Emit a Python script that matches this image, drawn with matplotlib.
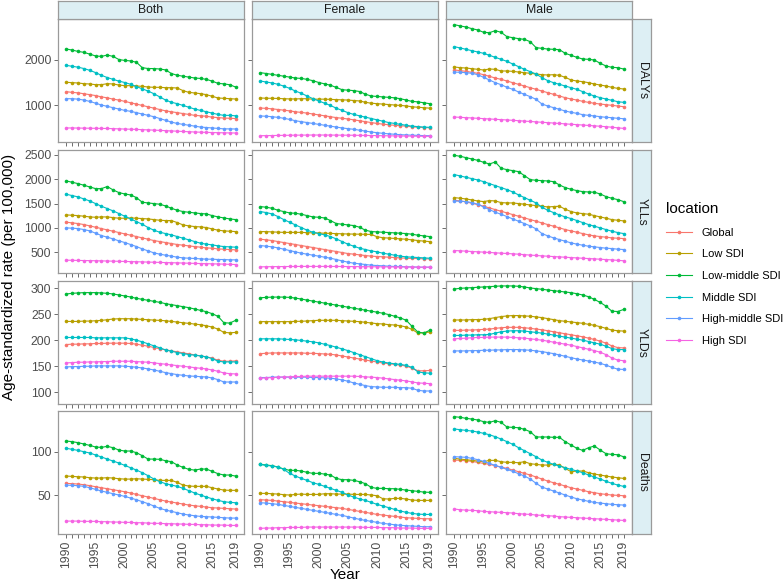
import matplotlib
matplotlib.use('Agg')
import matplotlib.pyplot as plt
from matplotlib.lines import Line2D

plt.rcParams['font.family'] = ['Liberation Sans', 'DejaVu Sans']

years = list(range(1990, 2020))
locations = ['Global', 'Low SDI', 'Low-middle SDI', 'Middle SDI', 'High-middle SDI', 'High SDI']
colors = ['#F8766D', '#B79F00', '#00BA38', '#00BFC4', '#619CFF', '#F564E3']
sexes = ['Both', 'Female', 'Male']
measures = ['DALYs', 'YLLs', 'YLDs', 'Deaths']
year_labels = {1990: '1990', 1995: '1995', 2000: '2000', 2005: '2005',
               2010: '2010', 2015: '2015', 2019: '2019'}

# ---- DALYs ----
dalys_both = {
    'Global': [1296, 1280, 1270, 1250, 1230, 1210, 1180, 1160, 1130, 1110, 1080, 1050, 1020, 990, 960,
               930, 900, 870, 850, 830, 810, 790, 770, 760, 750, 730, 720, 710, 705, 700],
    'Low SDI': [1504, 1497, 1489, 1474, 1467, 1452, 1452, 1474, 1467, 1444, 1430, 1430, 1422, 1415, 1400,
                1393, 1393, 1385, 1385, 1378, 1319, 1281, 1267, 1252, 1230, 1193, 1156, 1148, 1141, 1133],
    'Low-middle SDI': [2244, 2220, 2190, 2170, 2130, 2090, 2080, 2110, 2080, 2010, 1990, 1980, 1950, 1830, 1810,
                       1810, 1800, 1780, 1700, 1660, 1640, 1620, 1600, 1590, 1570, 1530, 1480, 1470, 1450, 1400],
    'Middle SDI': [1880, 1860, 1840, 1810, 1770, 1720, 1660, 1610, 1570, 1530, 1500, 1460, 1410, 1360, 1310,
                   1250, 1180, 1110, 1060, 1030, 990, 950, 910, 880, 850, 820, 790, 770, 770, 760],
    'High-middle SDI': [1140, 1140, 1130, 1110, 1080, 1040, 1000, 970, 940, 910, 880, 860, 830, 800, 770,
                        740, 700, 660, 620, 590, 570, 550, 530, 510, 500, 490, 480, 470, 470, 467],
    'High SDI': [490, 490, 488, 486, 484, 482, 480, 478, 475, 470, 466, 462, 458, 452, 447,
                 442, 436, 430, 424, 418, 412, 406, 400, 396, 392, 388, 385, 382, 380, 378],
}
dalys_female = {
    'Global': [933, 925, 915, 900, 885, 870, 850, 835, 820, 800, 780, 760, 740, 720, 705,
               690, 670, 650, 630, 610, 590, 575, 560, 550, 540, 530, 515, 505, 500, 496],
    'Low SDI': [1156, 1150, 1150, 1145, 1140, 1135, 1135, 1140, 1140, 1130, 1130, 1130, 1125, 1120, 1115,
                1110, 1100, 1090, 1060, 1040, 1030, 1020, 1010, 1000, 990, 980, 960, 950, 940, 930],
    'Low-middle SDI': [1718, 1700, 1680, 1660, 1640, 1620, 1600, 1590, 1570, 1540, 1500, 1470, 1440, 1390, 1340,
                       1330, 1320, 1300, 1240, 1200, 1190, 1180, 1170, 1160, 1140, 1110, 1080, 1070, 1050, 1030],
    'Middle SDI': [1533, 1510, 1490, 1460, 1420, 1370, 1310, 1260, 1200, 1140, 1090, 1040, 990, 930, 880,
                   830, 790, 760, 730, 700, 670, 640, 610, 590, 570, 550, 530, 520, 510, 504],
    'High-middle SDI': [756, 750, 740, 725, 705, 680, 650, 630, 610, 590, 570, 550, 530, 510, 490,
                        475, 460, 440, 420, 400, 385, 370, 360, 350, 340, 335, 330, 325, 320, 318],
    'High SDI': [318, 320, 322, 324, 326, 328, 330, 331, 332, 333, 333, 333, 332, 331, 330,
                 329, 328, 326, 324, 322, 320, 318, 316, 314, 312, 310, 308, 306, 305, 304],
}
dalys_male = {
    'Global': [1778, 1763, 1748, 1726, 1704, 1674, 1637, 1600, 1570, 1533, 1496, 1459, 1422, 1385, 1348,
               1311, 1274, 1237, 1200, 1163, 1133, 1111, 1081, 1059, 1037, 1022, 1007, 993, 978, 963],
    'Low SDI': [1844, 1830, 1822, 1807, 1793, 1778, 1800, 1793, 1756, 1756, 1748, 1733, 1719, 1704, 1689,
                1674, 1667, 1674, 1659, 1615, 1556, 1533, 1519, 1496, 1467, 1444, 1422, 1393, 1370, 1356],
    'Low-middle SDI': [2785, 2756, 2733, 2696, 2667, 2615, 2607, 2652, 2615, 2519, 2496, 2474, 2459, 2407, 2274,
                       2259, 2244, 2237, 2230, 2148, 2104, 2059, 2022, 2015, 2000, 1926, 1867, 1837, 1830, 1800],
    'Middle SDI': [2296, 2267, 2237, 2207, 2178, 2148, 2104, 2059, 2015, 1970, 1911, 1852, 1793, 1741, 1689,
                   1607, 1541, 1496, 1459, 1422, 1385, 1348, 1296, 1244, 1200, 1163, 1133, 1104, 1074, 1059],
    'High-middle SDI': [1733, 1726, 1719, 1704, 1674, 1615, 1556, 1496, 1452, 1393, 1348, 1289, 1237, 1185, 1126,
                        1022, 978, 941, 904, 867, 837, 815, 785, 770, 756, 741, 726, 719, 704, 696],
    'High SDI': [733, 726, 719, 712, 705, 697, 690, 682, 675, 668, 660, 651, 642, 634, 625,
                 616, 608, 599, 590, 581, 572, 564, 555, 546, 537, 528, 518, 506, 493, 481],
}

# ---- YLLs ----
ylls_both = {
    'Global': [1114, 1101, 1087, 1066, 1039, 1011, 984, 956, 929, 902, 874, 847, 819, 792, 764,
               737, 716, 696, 675, 655, 641, 627, 613, 600, 586, 579, 565, 559, 552, 545],
    'Low SDI': [1265, 1258, 1251, 1238, 1224, 1217, 1224, 1224, 1210, 1197, 1197, 1203, 1197, 1190, 1183,
                1169, 1155, 1149, 1149, 1107, 1059, 1039, 1025, 1018, 1005, 977, 950, 936, 929, 922],
    'Low-middle SDI': [1965, 1937, 1910, 1876, 1841, 1807, 1807, 1850, 1780, 1725, 1697, 1677, 1622, 1526, 1512,
                       1499, 1485, 1450, 1402, 1361, 1334, 1320, 1306, 1293, 1286, 1251, 1224, 1203, 1183, 1169],
    'Middle SDI': [1690, 1663, 1636, 1594, 1553, 1498, 1444, 1396, 1348, 1293, 1238, 1183, 1128, 1073, 1005,
                   950, 908, 881, 854, 819, 785, 751, 716, 682, 662, 648, 627, 613, 607, 600],
    'High-middle SDI': [998, 991, 984, 963, 936, 888, 840, 806, 771, 730, 696, 655, 613, 565, 524,
                        483, 456, 435, 415, 394, 380, 373, 367, 360, 353, 353, 346, 346, 339, 339],
    'High SDI': [332, 330, 327, 325, 323, 320, 318, 315, 312, 309, 306, 303, 300, 297, 293,
                 290, 286, 283, 280, 277, 273, 270, 266, 263, 260, 257, 254, 251, 247, 243],
}
ylls_female = {
    'Global': [764, 751, 737, 716, 696, 675, 655, 634, 613, 593, 572, 552, 531, 511, 490,
               469, 456, 442, 428, 415, 408, 401, 394, 387, 380, 373, 367, 367, 360, 360],
    'Low SDI': [922, 920, 915, 910, 905, 905, 905, 905, 900, 895, 892, 888, 884, 880, 876,
                872, 870, 868, 866, 862, 815, 795, 788, 780, 772, 764, 751, 737, 725, 716],
    'Low-middle SDI': [1437, 1423, 1402, 1361, 1334, 1306, 1299, 1279, 1251, 1224, 1217, 1203, 1149, 1087, 1073,
                       1059, 1046, 1011, 950, 922, 915, 908, 902, 895, 888, 881, 867, 847, 833, 819],
    'Middle SDI': [1334, 1313, 1286, 1231, 1169, 1114, 1059, 1005, 950, 908, 881, 854, 819, 771, 716,
                   662, 620, 579, 552, 524, 504, 476, 456, 435, 415, 401, 394, 387, 380, 373],
    'High-middle SDI': [634, 620, 607, 586, 559, 531, 504, 476, 456, 435, 415, 394, 373, 346, 318,
                        291, 270, 257, 243, 229, 222, 216, 209, 202, 202, 195, 195, 188, 188, 188],
    'High SDI': [195, 197, 199, 200, 201, 202, 203, 204, 204, 204, 204, 204, 203, 203, 202,
                 201, 200, 199, 198, 197, 196, 195, 194, 193, 192, 191, 190, 189, 188, 187],
}
ylls_male = {
    'Global': [1567, 1553, 1533, 1505, 1478, 1444, 1409, 1375, 1341, 1306, 1272, 1238, 1203, 1169, 1135,
               1101, 1066, 1032, 998, 963, 936, 908, 881, 854, 833, 819, 806, 792, 785, 778],
    'Low SDI': [1622, 1608, 1594, 1574, 1553, 1540, 1560, 1553, 1519, 1512, 1512, 1499, 1485, 1471, 1457,
                1444, 1430, 1437, 1444, 1382, 1334, 1306, 1293, 1279, 1251, 1224, 1197, 1169, 1155, 1142],
    'Low-middle SDI': [2493, 2473, 2445, 2418, 2390, 2349, 2315, 2356, 2226, 2198, 2178, 2157, 2075, 1992, 1979,
                       1972, 1965, 1951, 1883, 1828, 1793, 1766, 1745, 1738, 1732, 1697, 1642, 1608, 1581, 1540],
    'Middle SDI': [2095, 2068, 2040, 2013, 1985, 1951, 1910, 1869, 1828, 1787, 1738, 1677, 1622, 1567, 1512,
                   1423, 1361, 1313, 1265, 1224, 1190, 1149, 1107, 1066, 1032, 998, 963, 929, 902, 881],
    'High-middle SDI': [1553, 1546, 1540, 1519, 1485, 1430, 1375, 1320, 1279, 1231, 1183, 1135, 1087, 1039, 977,
                        881, 833, 792, 757, 723, 689, 662, 641, 620, 607, 593, 579, 572, 559, 552],
    'High SDI': [531, 525, 518, 511, 505, 498, 491, 484, 477, 470, 463, 456, 446, 437, 429,
                 421, 414, 407, 400, 393, 386, 379, 372, 366, 359, 352, 345, 338, 328, 320],
}

# ---- YLDs ----
ylds_both = {
    'Global': [191.6, 192.3, 192.3, 192.9, 192.9, 193.6, 193.6, 194.2, 194.2, 194.2, 194.2, 193.6, 192.3, 190.3, 188.4,
               185.8, 183.3, 181.3, 179.4, 177.5, 175.5, 173.6, 171.6, 169.7, 167.8, 165.2, 161.3, 159.4, 159.4, 160.0],
    'Low SDI': [236.1, 236.1, 236.1, 236.8, 236.8, 237.4, 238.1, 239.4, 240.7, 241.3, 241.3, 241.3, 240.7, 240.0, 239.4,
                238.7, 238.1, 237.4, 236.1, 234.9, 233.6, 232.3, 231.0, 229.7, 227.8, 225.2, 221.3, 214.9, 214.2, 214.9],
    'Low-middle SDI': [289.0, 290.3, 291.0, 291.6, 291.6, 291.6, 291.0, 290.3, 289.0, 287.1, 285.2, 283.2, 280.6, 278.7, 276.8,
                       274.8, 272.9, 270.3, 268.4, 266.5, 264.5, 262.6, 260.0, 257.4, 254.8, 251.0, 245.8, 233.6, 232.9, 238.1],
    'Middle SDI': [205.2, 205.2, 205.2, 205.2, 205.2, 204.5, 204.5, 204.5, 204.5, 204.5, 204.5, 202.6, 200.0, 196.8, 192.9,
                   189.1, 185.2, 181.3, 178.7, 176.2, 174.2, 172.3, 171.0, 169.7, 167.8, 164.6, 159.4, 158.1, 158.1, 158.1],
    'High-middle SDI': [148.4, 149.1, 149.1, 149.7, 149.7, 150.4, 150.4, 150.4, 150.4, 150.4, 149.7, 149.1, 147.8, 146.5, 144.6,
                        142.6, 140.0, 137.5, 135.5, 133.6, 132.3, 131.0, 130.4, 129.7, 129.1, 127.1, 123.9, 119.4, 119.4, 119.4],
    'High SDI': [156.2, 156.8, 157.5, 157.5, 158.1, 158.1, 158.7, 158.7, 159.4, 159.4, 159.4, 159.4, 158.7, 158.1, 157.5,
                 156.2, 154.9, 153.6, 152.3, 151.0, 149.7, 148.4, 147.1, 145.8, 144.6, 142.6, 140.0, 136.8, 135.5, 134.9],
}
ylds_female = {
    'Global': [174.1, 174.7, 175.4, 175.4, 175.4, 175.4, 175.4, 175.4, 174.7, 174.7, 174.1, 173.4, 172.8, 171.5, 169.5,
               167.6, 165.6, 163.7, 161.7, 159.8, 157.9, 155.9, 154.6, 153.3, 152.0, 150.1, 146.2, 141.0, 141.0, 141.6],
    'Low SDI': [235.7, 235.7, 235.7, 235.7, 235.7, 235.7, 236.3, 236.3, 237.0, 237.6, 238.3, 238.3, 238.3, 238.3, 237.6,
                237.0, 236.3, 235.7, 234.4, 233.1, 231.8, 231.2, 229.9, 229.2, 227.9, 225.3, 220.8, 213.6, 214.3, 215.6],
    'Low-middle SDI': [281.8, 282.4, 283.0, 283.0, 283.0, 282.4, 281.1, 279.2, 277.2, 275.3, 273.3, 271.4, 269.4, 267.5, 265.5,
                       263.6, 261.6, 259.7, 257.8, 255.8, 253.9, 251.9, 249.3, 246.1, 242.8, 238.3, 226.6, 215.6, 213.6, 218.8],
    'Middle SDI': [202.6, 202.6, 202.6, 202.6, 202.0, 201.3, 200.7, 199.4, 198.1, 196.8, 194.8, 192.2, 189.6, 186.4, 183.2,
                   179.9, 176.0, 172.1, 168.2, 164.3, 160.5, 157.9, 155.9, 154.6, 153.3, 151.4, 147.5, 139.0, 137.1, 136.4],
    'High-middle SDI': [128.0, 128.0, 128.7, 128.7, 128.7, 128.7, 128.7, 128.7, 128.7, 128.0, 128.0, 127.4, 126.7, 125.4, 123.5,
                        120.9, 117.6, 115.0, 112.4, 110.5, 109.9, 109.2, 109.2, 109.2, 108.5, 108.5, 107.3, 103.4, 102.1, 102.1],
    'High SDI': [126.7, 127.4, 128.0, 128.7, 129.3, 129.3, 130.0, 130.0, 130.6, 130.6, 130.6, 130.6, 130.6, 130.6, 130.6,
                 130.6, 130.6, 130.0, 129.3, 128.7, 128.0, 126.7, 125.4, 124.1, 122.8, 121.5, 119.6, 117.6, 117.0, 116.3],
}
ylds_male = {
    'Global': [218.8, 218.8, 219.5, 219.5, 220.1, 220.8, 221.4, 222.7, 224.0, 224.7, 224.7, 224.7, 224.0, 222.7, 221.4,
               220.1, 218.2, 216.2, 214.3, 212.3, 210.4, 208.5, 206.5, 203.9, 201.3, 198.1, 194.2, 189.0, 185.7, 185.1],
    'Low SDI': [238.9, 238.9, 238.9, 239.6, 239.6, 240.2, 241.5, 243.5, 245.4, 246.7, 247.4, 247.4, 246.7, 246.1, 244.8,
                243.5, 241.5, 239.6, 237.6, 236.3, 235.1, 233.8, 232.5, 230.5, 228.6, 226.0, 222.7, 219.5, 218.2, 217.5],
    'Low-middle SDI': [298.6, 299.9, 300.6, 301.2, 301.9, 302.5, 303.2, 303.8, 304.5, 304.5, 304.5, 303.8, 302.5, 300.6, 299.3,
                       298.0, 296.7, 295.4, 294.1, 292.8, 291.5, 289.5, 287.0, 283.7, 278.5, 272.7, 265.5, 255.8, 255.2, 259.1],
    'Middle SDI': [209.1, 209.1, 209.8, 209.8, 210.4, 210.4, 211.0, 213.6, 216.2, 217.5, 218.2, 218.2, 217.5, 216.2, 214.9,
                   213.6, 211.7, 209.8, 207.8, 205.9, 203.9, 202.0, 200.0, 197.4, 194.8, 192.2, 188.3, 183.8, 181.9, 181.9],
    'High-middle SDI': [179.3, 179.3, 179.3, 179.9, 179.9, 180.6, 180.6, 181.2, 181.2, 181.9, 181.9, 181.9, 181.2, 180.6, 179.3,
                        178.0, 176.0, 174.1, 171.5, 168.9, 166.3, 163.7, 161.8, 159.8, 157.9, 155.3, 152.0, 147.5, 144.2, 143.6],
    'High SDI': [202.6, 203.3, 203.9, 204.6, 205.2, 205.2, 205.9, 205.9, 205.9, 205.9, 205.2, 204.6, 203.9, 202.6, 201.3,
                 200.0, 198.1, 196.1, 194.2, 192.2, 190.3, 187.7, 185.1, 182.5, 179.9, 176.7, 172.1, 165.6, 161.7, 160.4],
}

# ---- Deaths ----
deaths_both = {
    'Global': [63.4, 63.1, 62.7, 61.9, 60.8, 59.6, 58.4, 57.3, 56.1, 55.0, 53.8, 52.3, 50.7, 49.2, 47.7,
               46.1, 44.6, 43.0, 41.9, 40.7, 39.6, 38.4, 37.6, 36.9, 36.1, 35.3, 35.0, 34.6, 34.2, 33.8],
    'Low SDI': [71.9, 71.5, 71.1, 70.8, 70.0, 69.6, 69.6, 70.0, 69.6, 68.8, 68.4, 68.4, 68.8, 68.4, 68.1,
                67.7, 66.9, 66.9, 66.9, 64.6, 61.5, 60.4, 60.0, 60.0, 60.0, 58.4, 56.9, 55.7, 55.4, 55.4],
    'Low-middle SDI': [112.3, 111.6, 110.4, 108.9, 107.3, 105.4, 105.0, 106.2, 104.6, 101.9, 100.8, 100.8, 98.9, 95.4, 91.5,
                       91.5, 91.2, 89.6, 88.5, 84.6, 81.9, 79.6, 78.8, 80.0, 80.0, 77.3, 74.6, 73.1, 73.1, 71.9],
    'Middle SDI': [103.9, 102.7, 101.5, 100.0, 98.5, 96.2, 93.9, 91.5, 89.2, 86.9, 84.2, 81.5, 78.8, 75.8, 72.3,
                   68.5, 65.4, 63.1, 61.5, 60.0, 57.7, 55.0, 52.3, 50.0, 47.7, 45.7, 43.8, 42.3, 41.5, 41.1],
    'High-middle SDI': [61.5, 61.1, 60.8, 60.0, 58.4, 56.5, 54.6, 53.1, 51.5, 50.0, 48.4, 46.5, 44.6, 42.3, 40.0,
                        37.3, 34.6, 32.7, 31.1, 29.6, 28.0, 26.9, 26.1, 25.3, 25.0, 24.6, 24.2, 23.8, 23.4, 23.4],
    'High SDI': [19.9, 19.9, 19.9, 19.6, 19.6, 19.6, 19.2, 19.2, 18.8, 18.8, 18.4, 18.4, 18.0, 18.0, 17.6,
                 17.3, 17.3, 16.9, 16.9, 16.5, 16.5, 16.1, 16.1, 15.7, 15.7, 15.3, 15.3, 15.3, 14.9, 14.9],
}
deaths_female = {
    'Global': [44.6, 44.2, 43.8, 43.0, 42.3, 41.5, 40.7, 40.0, 39.2, 38.4, 37.7, 36.9, 36.1, 35.4, 34.6,
               33.4, 32.3, 31.1, 30.0, 28.8, 27.6, 26.9, 26.1, 25.3, 24.6, 23.8, 23.4, 23.0, 22.6, 22.6],
    'Low SDI': [51.9, 51.9, 51.5, 51.1, 50.4, 50.0, 50.7, 51.1, 50.7, 50.7, 50.7, 51.5, 51.5, 51.1, 51.1,
                51.1, 50.7, 50.7, 50.7, 50.0, 49.2, 45.7, 45.4, 46.1, 46.1, 45.4, 44.2, 43.8, 43.8, 43.8],
    'Low-middle SDI': [85.4, 84.6, 83.9, 82.3, 80.0, 78.5, 78.5, 77.7, 76.2, 75.0, 75.0, 74.2, 73.1, 69.2, 67.7,
                       67.7, 66.9, 65.4, 63.1, 58.8, 57.7, 57.7, 57.3, 57.3, 56.5, 55.7, 55.0, 54.2, 53.4, 53.1],
    'Middle SDI': [85.4, 84.2, 83.5, 82.3, 79.6, 75.0, 71.9, 69.2, 66.9, 64.2, 62.3, 60.0, 57.7, 55.4, 53.1,
                   50.0, 47.7, 45.4, 43.8, 41.5, 39.2, 37.3, 35.4, 33.4, 31.5, 30.0, 28.8, 28.0, 27.6, 27.6],
    'High-middle SDI': [41.1, 40.7, 40.0, 39.2, 38.0, 36.9, 35.7, 34.6, 33.4, 32.3, 31.1, 30.0, 28.8, 27.6, 26.5,
                        25.0, 23.4, 21.9, 20.7, 19.6, 18.4, 17.3, 16.5, 15.7, 15.0, 14.6, 14.2, 13.8, 13.4, 13.4],
    'High SDI': [11.5, 11.9, 11.9, 12.3, 12.3, 12.6, 12.6, 12.6, 13.0, 13.0, 13.0, 13.0, 13.0, 13.0, 13.0,
                 13.0, 13.0, 13.0, 12.6, 12.6, 12.6, 12.3, 12.3, 12.3, 11.9, 11.9, 11.9, 11.5, 11.5, 11.5],
}
deaths_male = {
    'Global': [90.4, 90.0, 89.6, 88.8, 87.7, 86.5, 85.4, 83.8, 82.3, 80.8, 78.8, 76.9, 75.0, 73.1, 70.8,
               68.5, 66.1, 64.2, 62.3, 60.4, 58.4, 56.9, 55.4, 53.8, 52.7, 51.5, 50.7, 50.0, 49.6, 49.2],
    'Low SDI': [92.3, 91.5, 90.8, 90.0, 89.2, 88.5, 90.0, 90.0, 88.5, 87.7, 87.7, 87.3, 88.5, 86.1, 85.4,
                84.6, 84.6, 85.4, 84.6, 80.8, 76.9, 77.7, 77.7, 75.8, 74.2, 73.1, 71.9, 70.8, 70.0, 69.2],
    'Low-middle SDI': [140.4, 139.7, 138.5, 137.7, 136.6, 134.7, 133.9, 135.8, 133.9, 128.5, 128.1, 127.7, 125.8, 123.1, 117.0,
                       117.0, 117.0, 116.6, 116.6, 111.6, 107.7, 103.9, 101.5, 104.6, 106.6, 101.9, 97.7, 96.9, 96.5, 94.2],
    'Middle SDI': [126.2, 125.4, 124.6, 123.9, 122.7, 121.2, 119.6, 117.3, 114.6, 111.6, 108.5, 104.6, 101.2, 97.7, 94.2,
                   90.4, 87.7, 85.4, 83.5, 81.5, 79.6, 77.7, 75.8, 73.1, 70.8, 68.5, 65.8, 63.5, 61.5, 60.0],
    'High-middle SDI': [94.2, 93.9, 93.5, 92.3, 90.8, 88.8, 86.5, 84.2, 81.9, 79.6, 77.3, 74.6, 71.9, 68.5, 63.5,
                        59.2, 56.9, 54.6, 52.3, 50.0, 47.7, 45.7, 44.2, 42.7, 41.5, 40.7, 40.0, 39.2, 38.8, 38.4],
    'High SDI': [33.8, 33.0, 32.6, 32.3, 31.9, 31.1, 30.7, 30.3, 30.0, 29.6, 29.2, 28.4, 28.0, 27.6, 26.9,
                 26.5, 26.1, 25.7, 25.0, 24.6, 24.2, 23.8, 23.4, 23.0, 22.6, 22.3, 21.9, 21.5, 21.1, 20.7],
}

panels = {
    'DALYs': [dalys_both, dalys_female, dalys_male],
    'YLLs': [ylls_both, ylls_female, ylls_male],
    'YLDs': [ylds_both, ylds_female, ylds_male],
    'Deaths': [deaths_both, deaths_female, deaths_male],
}
y_ticks = {
    'DALYs': [1000, 2000],
    'YLLs': [500, 1000, 1500, 2000, 2500],
    'YLDs': [100, 150, 200, 250, 300],
    'Deaths': [50, 100],
}
y_limits = {
    'DALYs': (178, 2911),
    'YLLs': (68, 2603),
    'YLDs': (77, 314),
    'Deaths': (5, 147),
}

W, H = 784, 584
fig = plt.figure(figsize=(W / 100, H / 100), dpi=100)


def px_axes(x, y, w, h):
    return fig.add_axes([x / W, 1 - (y + h) / H, w / W, h / H])


col_x = [58, 252, 446]
row_y = [19, 150, 281, 411]
pw, ph = 186, 123
border = '#9A9A9A'
strip_fill = '#DDEFF4'
tick_col = '#4D4D4D'

for r, m in enumerate(measures):
    for c, s in enumerate(sexes):
        ax = px_axes(col_x[c], row_y[r], pw, ph)
        data = panels[m][c]
        for loc, col in zip(locations, colors):
            ax.plot(years, data[loc], color=col, lw=0.8, marker='o', ms=2.6,
                    markeredgewidth=0)
        ax.set_xlim(1990 - 1.45, 2019 + 1.45)
        ax.set_ylim(*y_limits[m])
        ax.set_xticks(years)
        ax.set_yticks(y_ticks[m])
        ax.tick_params(length=2.75, width=0.5, color='#333333', labelcolor=tick_col,
                       labelsize=8.8, pad=2)
        if r == len(measures) - 1:
            ax.set_xticklabels([year_labels.get(y, '') for y in years], rotation=90)
        else:
            ax.set_xticklabels([])
        if c == 0:
            ax.set_yticklabels([str(v) for v in y_ticks[m]])
        else:
            ax.set_yticklabels([])
        for sp in ax.spines.values():
            sp.set_color(border)
            sp.set_linewidth(0.9)

# strips on top
for c, s in enumerate(sexes):
    sa = px_axes(col_x[c], 1, pw, 18)
    sa.set_facecolor(strip_fill)
    sa.set_xticks([])
    sa.set_yticks([])
    for sp in sa.spines.values():
        sp.set_color(border)
        sp.set_linewidth(0.9)
    sa.text(0.5, 0.5, s, ha='center', va='center', fontsize=8.8, color='#1A1A1A',
            transform=sa.transAxes)

# strips on the right
for r, m in enumerate(measures):
    sa = px_axes(632, row_y[r], 19, ph)
    sa.set_facecolor(strip_fill)
    sa.set_xticks([])
    sa.set_yticks([])
    for sp in sa.spines.values():
        sp.set_color(border)
        sp.set_linewidth(0.9)
    sa.text(0.5, 0.5, m, ha='center', va='center', fontsize=8.8, color='#1A1A1A',
            rotation=-90, transform=sa.transAxes)

fig.text(345 / W, 1 - 575 / H, 'Year', ha='center', va='center', fontsize=11)
fig.text(9 / W, 1 - 277 / H, 'Age-standardized rate (per 100,000)', ha='center',
         va='center', rotation=90, fontsize=11)

handles = [Line2D([0], [0], color=col, lw=0.8, marker='o', ms=2.6, markeredgewidth=0)
           for col in colors]
fig.legend(handles, locations, title='location', loc='upper left',
           bbox_to_anchor=(666 / W, 1 - 202 / H), frameon=False, fontsize=8.0,
           title_fontsize=11, alignment='left', handlelength=2.3, handletextpad=0.9,
           labelspacing=1.05, borderpad=0, borderaxespad=0)

fig.savefig('out.png', dpi=100)
